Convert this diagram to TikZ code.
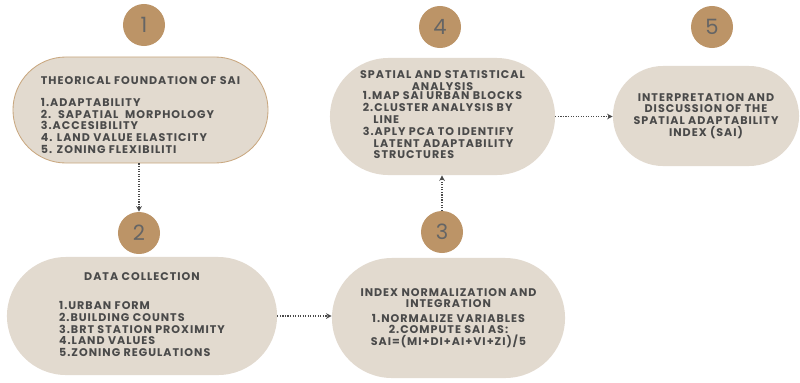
\documentclass[tikz,border=0pt]{standalone}
\usepackage{fontspec}
\setmainfont{Poppins}[LetterSpace=9]
\newfontfamily\numfont{Poppins}
\usetikzlibrary{shapes.misc,arrows.meta}
\definecolor{sand}{HTML}{E2DACF}
\definecolor{badge}{HTML}{BC9467}
\definecolor{ink}{HTML}{4A4A4A}
\definecolor{rim}{HTML}{C9A77F}

\begin{document}
\begin{tikzpicture}[x=0.025cm,y=-0.025cm,
    pill/.style={rounded rectangle,fill=sand,text=ink,inner sep=0pt,
        font=\fontsize{7.9}{8.3}\selectfont\bfseries},
    num/.style={circle,fill=badge,text=ink!85,minimum size=1.05cm,inner sep=0pt,
        font=\numfont\fontsize{15}{15}\selectfont},
    link/.style={densely dotted,line width=0.8pt,ink,-{Stealth[length=4pt,width=4pt]}}]
    \useasboundingbox (0,0) rectangle (800,382);
    \node[num] (n1) at (144,25) {1};
    \node[num] (n2) at (139,233) {2};
    \node[num] (n3) at (442,232) {3};
    \node[num] (n4) at (440,27) {4};
    \node[num] (n5) at (712,27) {5};
    \node[pill,draw=rim,line width=0.6pt,minimum width=6.375cm,minimum height=2.65cm,align=left] (b1) at (140.5,110)
        {\rule{0pt}{13pt}THEORICAL FOUNDATION OF SAI\\[7pt]
         1.ADAPTABILITY\\2.\ \ SAPATIAL\ \ MORPHOLOGY\\3.ACCESIBILITY\\4. LAND VALUE ELASTICITY\\5. ZONING FLEXIBILITI};
    \node[pill,minimum width=6.75cm,minimum height=2.95cm,align=center] (b2) at (142,316)
        {DATA COLLECTION\\[14pt]
         \begin{tabular}{@{}l@{}}1.URBAN FORM\\2.BUILDING COUNTS\\3.BRT STATION PROXIMITY\\4.LAND VALUES\\5.ZONING REGULATIONS\end{tabular}};
    \node[pill,minimum width=5.825cm,minimum height=3cm,align=center] (b3) at (448.5,318)
        {INDEX NORMALIZATION AND\\INTEGRATION\\[2pt]1.NORMALIZE VARIABLES\\2.COMPUTE SAI AS:\\SAI=(MI+DI+AI+VI+ZI)/5};
    \node[pill,minimum width=5.625cm,minimum height=2.925cm,align=center] (b4) at (442.5,116.5)
        {SPATIAL AND STATISTICAL\\ANALYSIS\\
         \begin{tabular}{@{}l@{}}1.MAP SAI URBAN BLOCKS\\2.CLUSTER ANALYSIS BY\\\phantom{2.}LINE\\3.APLY PCA TO IDENTIFY\\\phantom{3.}LATENT ADAPTABILITY\\\phantom{3.}STRUCTURES\end{tabular}};
    \node[pill,minimum width=4.65cm,minimum height=2.5cm,align=center] (b5) at (706,116)
        {INTERPRETATION AND\\DISCUSSION OF THE\\SPATIAL ADAPTABILITY\\INDEX (SAI)};
    \draw[link] (b1.south -| n2) -- (n2.north);
    \draw[link] (b2.east) -- (b2.east -| b3.west);
    \draw[link] (n3.north) -- (n3.north |- b4.south);
    \draw[link] (b4.east) -- (b4.east -| b5.west);
\end{tikzpicture}
\end{document}
